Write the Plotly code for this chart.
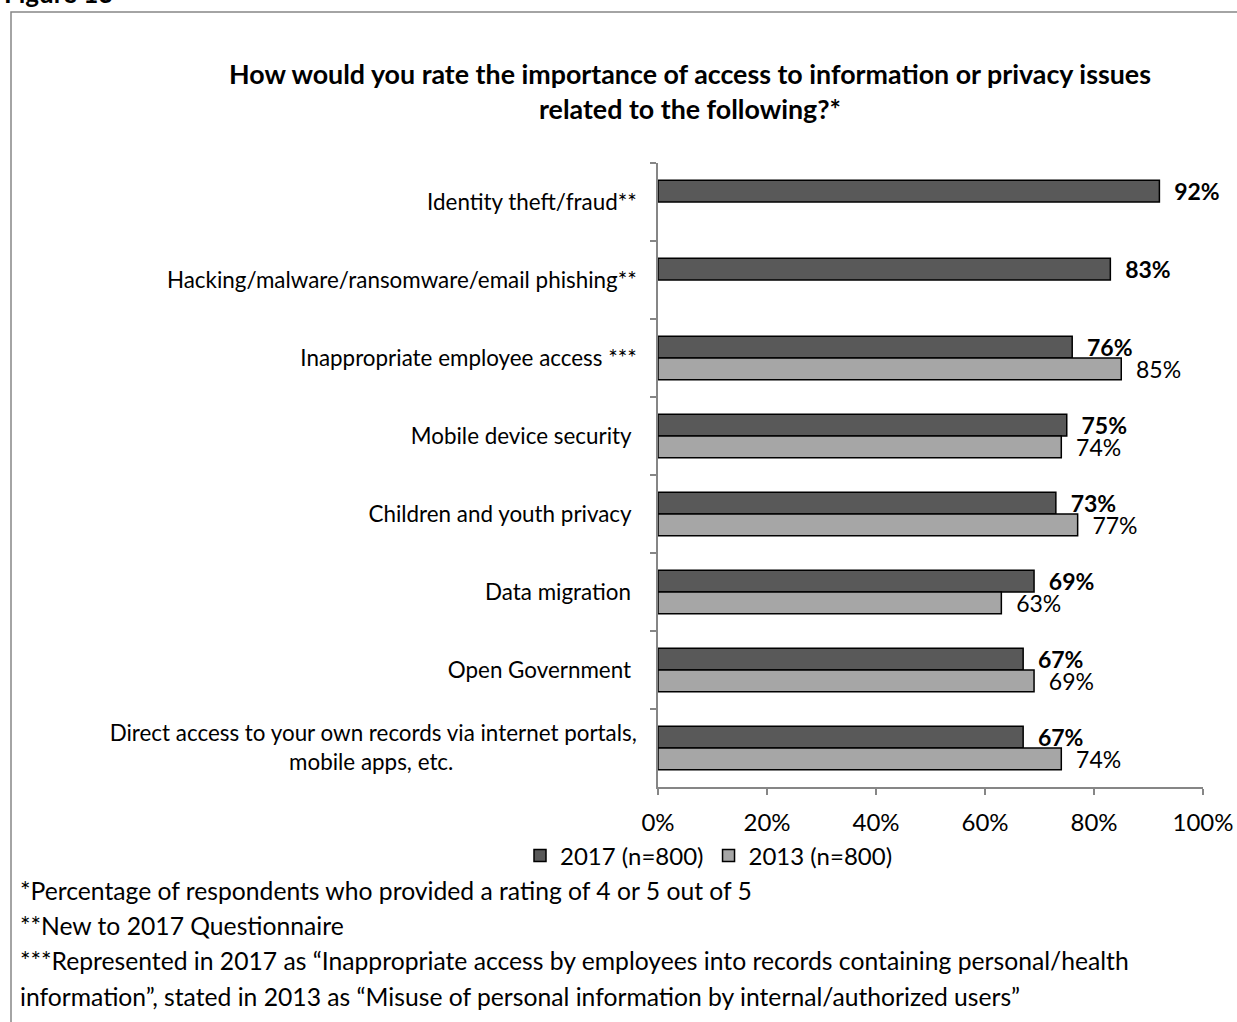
import plotly.graph_objects as go

# Survey categories (top to bottom)
categories = [
    "Identity theft/fraud**",
    "Hacking/malware/ransomware/email phishing**",
    "Inappropriate employee access ***",
    "Mobile device security ",
    "Children and youth privacy ",
    "Data migration ",
    "Open Government ",
    "Direct access to your own records via internet portals,<br>mobile apps, etc."
    + "\u00a0" * 32,
]
values_2017 = [92, 83, 76, 75, 73, 69, 67, 67]
values_2013 = [None, None, 85, 74, 77, 63, 69, 74]

series_names = ["2017 (n=800)", "2013 (n=800)"]
x_ticks = [0, 20, 40, 60, 80, 100]
x_tick_labels = ["0%", "20%", "40%", "60%", "80%", "100%"]

footnotes = [
    "*Percentage of respondents who provided a rating of 4 or 5 out of 5",
    "**New to 2017 Questionnaire",
    "***Represented in 2017 as \u201cInappropriate access by employees into records containing personal/health",
    "information\u201d, stated in 2013 as \u201cMisuse of personal information by internal/authorized users\u201d",
]

FONT = "Lato"
W, H = 1237, 1022
L, R, T, B = 658, 34, 163, 235
LABEL_GAP = "\u00a0\u00a0"


def cx(px):
    """Horizontal pixel position -> container fraction."""
    return px / W


def cy(py):
    """Vertical pixel position (from top) -> container fraction."""
    return 1 - py / H


fig = go.Figure()
fig.add_trace(go.Bar(
    y=categories, x=values_2017, orientation="h", name=series_names[0],
    marker=dict(color="#595959", line=dict(color="#000000", width=1.5)),
    text=[f"{LABEL_GAP}<b>{v}%</b>" if v is not None else "" for v in values_2017],
    textposition="outside", constraintext="none", cliponaxis=False,
    textfont=dict(family=FONT, size=23, color="#000000"),
    hoverinfo="skip",
))
fig.add_trace(go.Bar(
    y=categories, x=values_2013, orientation="h", name=series_names[1],
    marker=dict(color="#A6A6A6", line=dict(color="#000000", width=1.5)),
    text=[f"{LABEL_GAP}{v}%" if v is not None else "" for v in values_2013],
    textposition="outside", constraintext="none", cliponaxis=False,
    textfont=dict(family=FONT, size=23, color="#000000"),
    hoverinfo="skip",
))

# Paper coordinates are tied to the fixed plot area below
PW, PH = W - L - R, H - T - B


def px_x(px):
    return (px - L) / PW


def px_y(py):
    return (H - B - py) / PH


annotations = [
    dict(text="<b>Figure 13</b>", xref="paper", yref="paper",
         x=px_x(2), y=px_y(11), xanchor="left", yanchor="bottom",
         showarrow=False, font=dict(family=FONT, size=26, color="#000000")),
]
for i, line in enumerate(footnotes):
    annotations.append(dict(
        text=line, xref="paper", yref="paper",
        x=px_x(18), y=px_y(890 + i * 35.5), xanchor="left", yanchor="middle",
        showarrow=False, font=dict(family=FONT, size=24.7, color="#000000"),
    ))

fig.update_layout(
    width=W, height=H,
    margin=dict(l=L, r=R, t=T, b=B, pad=0, autoexpand=False),
    paper_bgcolor="#FFFFFF", plot_bgcolor="#FFFFFF",
    font=dict(family=FONT, size=22, color="#000000"),
    barmode="group", bargap=0.44, bargroupgap=0,
    title=dict(
        text="<b>How would you rate the importance of access to information or privacy issues<br>related to the following?*</b>",
        x=cx(690), xanchor="center", y=cy(84), yanchor="middle",
        font=dict(family=FONT, size=26.8, color="#000000"),
    ),
    xaxis=dict(
        range=[0, 100], tickvals=x_ticks, ticktext=x_tick_labels,
        showgrid=False, zeroline=False, showline=True, linecolor="#868686",
        linewidth=1.5, ticks="outside", ticklen=6, tickcolor="#868686",
        tickwidth=1.5, ticklabelstandoff=7, automargin=False,
        tickfont=dict(family=FONT, size=24, color="#000000"),
        fixedrange=True,
    ),
    yaxis=dict(
        autorange="reversed", type="category", showgrid=False,
        showline=True, linecolor="#868686", linewidth=1.5,
        ticks="outside", tickson="boundaries", ticklen=6,
        tickcolor="#868686", tickwidth=1.5, ticklabelstandoff=15,
        automargin=False,
        tickfont=dict(family=FONT, size=22.4, color="#000000"),
        fixedrange=True,
    ),
    legend=dict(
        orientation="h", xref="container", yref="container",
        x=cx(709), xanchor="center", y=cy(856), yanchor="middle",
        font=dict(family=FONT, size=24, color="#000000"),
        itemwidth=30, traceorder="normal", bgcolor="rgba(0,0,0,0)",
    ),
    annotations=annotations,
    shapes=[dict(
        type="rect", xref="paper", yref="paper",
        x0=px_x(11), x1=px_x(1250), y0=px_y(12), y1=px_y(1040),
        line=dict(color="#868686", width=1.5), fillcolor="rgba(0,0,0,0)",
        layer="below",
    )],
)

fig.write_html("out.html")
